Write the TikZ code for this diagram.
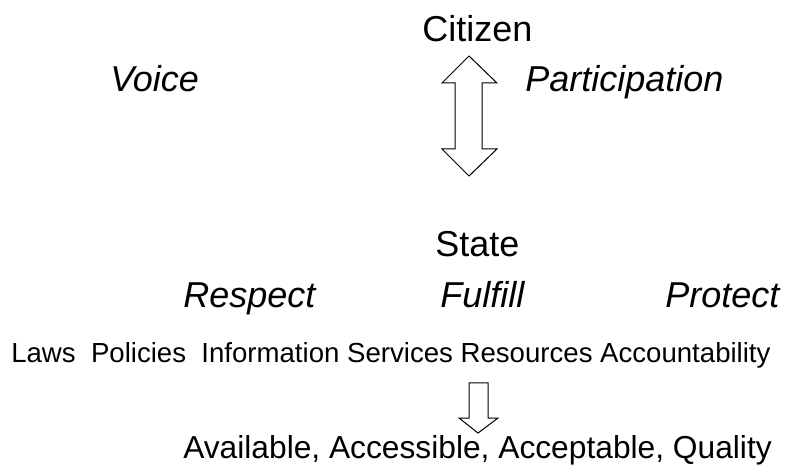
\documentclass[tikz,border=0pt]{standalone}
\usepackage{fontspec}
\setmainfont{Liberation Sans}
\begin{document}
\begin{tikzpicture}[x=0.75pt,y=-0.75pt,
  lbl/.style={inner sep=0pt,anchor=base west,font=\fontsize{27}{32}\selectfont},
  ilbl/.style={lbl,font=\fontsize{27}{32}\selectfont\itshape},
  blockarrow/.style={draw=black,line width=0.75pt,fill=white,line join=miter}]
\useasboundingbox (0,0) rectangle (785,466);
\node[lbl] (citizen) at (422,42) {Citizen};
\node[ilbl] (voice) at (110,92) {Voice};
\node[ilbl] (particip) at (525,92) {Participation};
\draw[blockarrow] (469,56) -- (497,83) -- (482,83) -- (482,149) -- (497,149) -- (469,176)
  -- (442,149) -- (455,149) -- (455,83) -- (442,83) -- cycle;
\node[lbl] (state) at (435,257) {State};
\node[ilbl] (respect) at (183,308) {Respect};
\node[ilbl] (fulfill) at (440,308) {Fulfill};
\node[ilbl] (protect) at (665,308) {Protect};
\node[lbl,font=\fontsize{20.7}{24}\selectfont] (laws) at (11,363) {Laws\ \ Policies\ \ Information Services Resources Accountability};
\draw[blockarrow] (469,383) -- (488,383) -- (488,418) -- (498,418) -- (478,433) -- (459,418) -- (469,418) -- cycle;
\node[lbl,font=\fontsize{23.8}{28}\selectfont] (avail) at (183,458) {Available, Accessible, Acceptable, Quality};
\end{tikzpicture}
\end{document}
